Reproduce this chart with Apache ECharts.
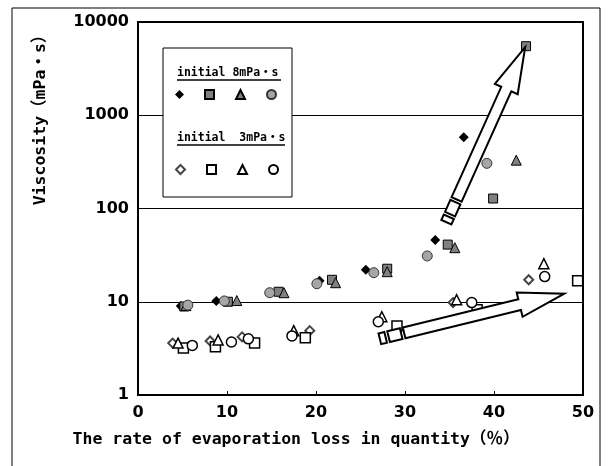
<!DOCTYPE html>
<html>
<head>
<meta charset="utf-8">
<script src="https://cdn.jsdelivr.net/npm/echarts@6/dist/echarts.min.js"></script>
<style>
  html, body { margin: 0; padding: 0; background: #fff; }
  #chart { width: 608px; height: 466px; }
</style>
</head>
<body>
<div id="chart"></div>
<script>
// initial 8mPa・s (filled markers)
const x8Diamond = [4.8, 8.8, 20.4, 25.6, 33.4, 36.6];
const y8Diamond = [9.0, 10.2, 16.8, 22, 46, 580];
const x8Square = [5.2, 10.1, 15.8, 21.8, 28.0, 34.8, 39.9, 43.6];
const y8Square = [8.9, 10.0, 12.8, 17.2, 22.6, 41, 128, 5500];
const x8Triangle = [5.4, 11.1, 16.4, 22.2, 28.0, 35.6, 42.5];
const y8Triangle = [9.1, 10.3, 12.5, 16.0, 21, 38, 330];
const x8Circle = [5.6, 9.7, 14.8, 20.1, 26.5, 32.5, 39.2];
const y8Circle = [9.2, 10.2, 12.5, 15.6, 20.5, 31, 305];

// initial 3mPa・s (open markers)
const x3Diamond = [3.9, 8.1, 11.7, 19.3, 35.4, 43.9];
const y3Diamond = [3.6, 3.8, 4.2, 4.9, 9.8, 17.2];
const x3Square = [5.1, 8.7, 13.1, 18.8, 29.1, 38.1, 49.4];
const y3Square = [3.2, 3.3, 3.6, 4.1, 5.5, 8.2, 16.8];
const x3Triangle = [4.5, 9.0, 17.5, 27.4, 35.8, 45.6];
const y3Triangle = [3.6, 3.9, 4.9, 6.9, 10.5, 25.6];
const x3Circle = [6.1, 10.5, 12.4, 17.3, 27.0, 37.5, 45.7];
const y3Circle = [3.4, 3.7, 4.0, 4.3, 6.1, 9.8, 18.6];

// trend arrows: [x, y] of tail and tip
const arrowFrom = [[35.8, 125], [29.9, 4.64]];
const arrowTo = [[43.5, 5380], [47.9, 12.2]];

const xTicks = [0, 10, 20, 30, 40, 50];
const yTicks = [1, 10, 100, 1000, 10000];

const pairs = (xs, ys) => xs.map((x, i) => [x, ys[i]]);

const chart = echarts.init(document.getElementById('chart'));

const labelFont = { fontFamily: 'DejaVu Sans', fontWeight: 'bold', fontSize: 16, color: '#000' };
const titleFont = 'bold 16.5px "DejaVu Sans Mono", "Noto Sans CJK JP", monospace';
const legFont = 'bold 11.5px "DejaVu Sans Mono", "Noto Sans CJK JP", monospace';

function arrowPolys(p0, p1) {
  const shaft = 5.5, head = 12.5, headLen = 46;
  const dx = p1[0] - p0[0], dy = p1[1] - p0[1];
  const L = Math.hypot(dx, dy);
  const ux = dx / L, uy = dy / L, nx = -uy, ny = ux;
  const at = (s, t) => [p0[0] + ux * s + nx * t, p0[1] + uy * s + ny * t];
  const b = L - headLen;
  const body = [at(0, -shaft), at(b, -shaft), at(b, -head), at(L, 0), at(b, head), at(b, shaft), at(0, shaft)];
  const box = (s0, s1) => [at(s0, -shaft), at(s1, -shaft), at(s1, shaft), at(s0, shaft)];
  return [body, box(-16, -3), box(-25, -19)];
}

const arrowData = arrowFrom.map((f, i) => [f[0], f[1], arrowTo[i][0], arrowTo[i][1]]);

function scatter(name, data, symbol, size, fill, border, bw) {
  return {
    name: name,
    type: 'scatter',
    data: data,
    symbol: symbol,
    symbolSize: size,
    z: 3,
    itemStyle: { color: fill, borderColor: border, borderWidth: bw, opacity: 1 }
  };
}

const legendBase = { left: 170, itemWidth: 9, itemHeight: 9, itemGap: 20, selectedMode: false, formatter: () => '', z: 20 };

const option = {
  animation: false,
  grid: { left: 138, top: 22, width: 445, height: 373, show: true, borderColor: '#000', borderWidth: 2, backgroundColor: 'transparent' },
  xAxis: {
    type: 'value', min: xTicks[0], max: xTicks[xTicks.length - 1], interval: 10,
    axisLine: { show: true, onZero: false, lineStyle: { color: '#000', width: 2 } },
    axisTick: { show: true, inside: true, length: 4, lineStyle: { color: '#000', width: 1 } },
    splitLine: { show: false },
    axisLabel: Object.assign({ margin: 10 }, labelFont)
  },
  yAxis: {
    type: 'log', logBase: 10, min: yTicks[0], max: yTicks[yTicks.length - 1],
    axisLine: { show: true, lineStyle: { color: '#000', width: 2 } },
    axisTick: { show: false },
    splitLine: { show: true, lineStyle: { color: '#000', width: 1 } },
    axisLabel: Object.assign({ margin: 9, formatter: v => String(Math.round(v)) }, labelFont)
  },
  legend: [
    Object.assign({ data: ['8-diamond', '8-square', '8-triangle', '8-circle'], top: 84 }, legendBase),
    Object.assign({ data: ['3-diamond', '3-square', '3-triangle', '3-circle'], top: 159 }, legendBase)
  ],
  graphic: [
    { type: 'polyline', z: 1, shape: { points: [[12, 466], [12, 8], [600, 8], [600, 466]] }, style: { stroke: '#000', lineWidth: 1, fill: null } },
    { type: 'rect', z: 10, shape: { x: 163, y: 48, width: 129, height: 149 }, style: { fill: '#fff', stroke: '#000', lineWidth: 1 } },
    { type: 'text', z: 11, x: 177, y: 73, style: { text: 'initial 8mPa・s', font: legFont, fill: '#000', textAlign: 'left', textVerticalAlign: 'middle' } },
    { type: 'line', z: 11, shape: { x1: 177, y1: 80, x2: 281, y2: 80 }, style: { stroke: '#000', lineWidth: 1.5 } },
    { type: 'text', z: 11, x: 177, y: 138, style: { text: 'initial  3mPa・s', font: legFont, fill: '#000', textAlign: 'left', textVerticalAlign: 'middle' } },
    { type: 'line', z: 11, shape: { x1: 177, y1: 145, x2: 285, y2: 145 }, style: { stroke: '#000', lineWidth: 1.5 } },
    { type: 'text', x: 41, y: 116, rotation: Math.PI / 2, style: { text: 'Viscosity（mPa・s）', font: titleFont, fill: '#000', textAlign: 'center', textVerticalAlign: 'middle' } },
    { type: 'text', x: 296, y: 440, style: { text: 'The rate of evaporation loss in quantity（％）', font: titleFont, fill: '#000', textAlign: 'center', textVerticalAlign: 'middle' } }
  ],
  series: [
    {
      type: 'custom',
      name: 'arrows',
      z: 4,
      data: arrowData,
      encode: { x: [0, 2], y: [1, 3] },
      renderItem: function (params, api) {
        const p0 = api.coord([api.value(0), api.value(1)]);
        const p1 = api.coord([api.value(2), api.value(3)]);
        return {
          type: 'group',
          children: arrowPolys(p0, p1).map(pts => ({
            type: 'polygon',
            shape: { points: pts },
            style: { fill: '#fff', stroke: '#000', lineWidth: 2 }
          }))
        };
      }
    },
    scatter('8-diamond', pairs(x8Diamond, y8Diamond), 'diamond', 10, '#000', '#000', 0),
    scatter('8-square', pairs(x8Square, y8Square), 'rect', 9, '#808080', '#000', 1),
    scatter('8-triangle', pairs(x8Triangle, y8Triangle), 'triangle', 10, '#808080', '#000', 1),
    scatter('8-circle', pairs(x8Circle, y8Circle), 'circle', 10, '#a6a6a6', '#333', 1),
    scatter('3-diamond', pairs(x3Diamond, y3Diamond), 'diamond', 9, '#fff', '#444', 2),
    scatter('3-square', pairs(x3Square, y3Square), 'rect', 10, '#fff', '#000', 1.5),
    scatter('3-triangle', pairs(x3Triangle, y3Triangle), 'triangle', 10, '#fff', '#000', 1.5),
    scatter('3-circle', pairs(x3Circle, y3Circle), 'circle', 10, '#fff', '#000', 1.5)
  ]
};

chart.setOption(option);
</script>
</body>
</html>
